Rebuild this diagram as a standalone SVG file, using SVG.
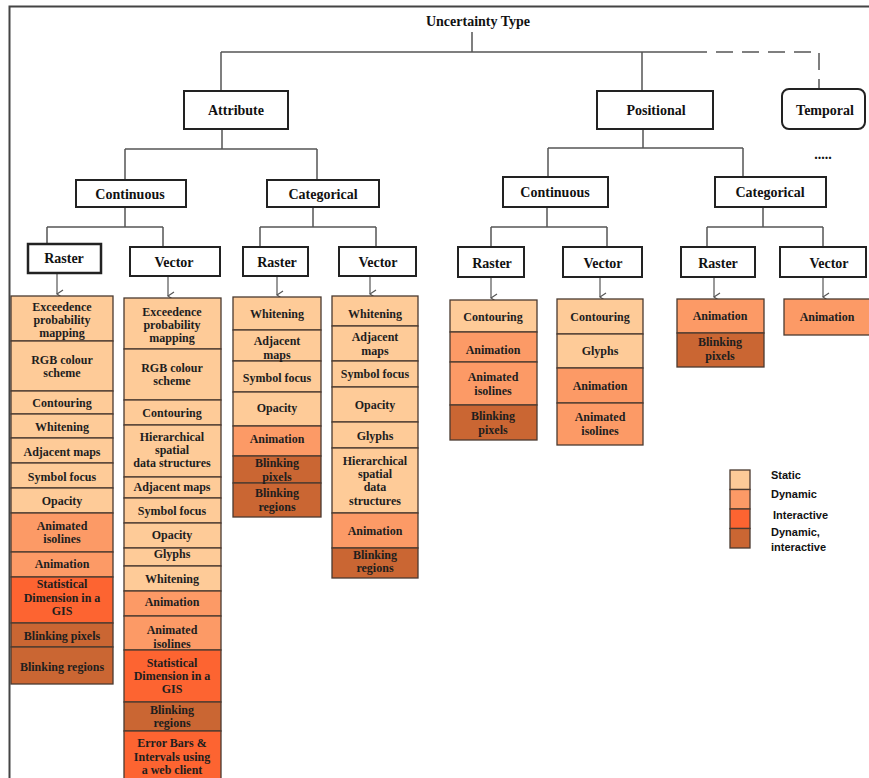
<svg xmlns="http://www.w3.org/2000/svg" width="869" height="778" viewBox="0 0 869 778">
<style>
.frame{fill:none;stroke:#444;stroke-width:2}
.ln{fill:none;stroke:#555;stroke-width:1.5}
.dash{fill:none;stroke:#555;stroke-width:1.5;stroke-dasharray:17 9}
.arr{fill:none;stroke:#555;stroke-width:1.2}
.box{fill:#fff;stroke:#222;stroke-width:2}
.ht{font-family:"Liberation Serif","Times New Roman",serif;font-weight:bold;font-size:14px;fill:#111;text-anchor:middle}
.ct{font-family:"Liberation Serif","Times New Roman",serif;font-weight:bold;font-size:12px;fill:#1e1e1e;text-anchor:middle}
.c{stroke:#4a3a30;stroke-width:1.3}
.st{fill:#fecb98}
.dy{fill:#fc9a66}
.in{fill:#fd6431}
.di{fill:#ca6633}
.lt{font-family:"Liberation Sans",Arial,sans-serif;font-weight:bold;font-size:11px;fill:#111}
</style>
<defs>
<marker id="ah" markerUnits="userSpaceOnUse" markerWidth="10" markerHeight="8" refX="5" refY="7" orient="auto-start-reverse" viewBox="0 0 10 8">
<path d="M1,1 L5,7 L9,1" fill="none" stroke="#555" stroke-width="1.2"/>
</marker>
</defs>
<rect width="869" height="778" fill="#fff"/>
<path class="frame" d="M9.5,778 V6.5 H869"/>

<g id="connectors">
<path class="ln" d="M472,32 V52 M221,52 H690 M221,52 V91 M642,52 V91"/>
<path class="dash" d="M690,52 H819 V88"/>
<path class="ln" d="M222,129 V149 M125,149 H317 M125,149 V180 M317,149 V180"/>
<path class="ln" d="M125,207 V227 M47,227 H163 M47,227 V244 M163,227 V247"/>
<path class="ln" d="M313,207 V227 M260,227 H376 M260,227 V247 M376,227 V247"/>
<path class="ln" d="M643,129 V148 M548,148 H743 M548,148 V177 M743,148 V177"/>
<path class="ln" d="M547,207 V227 M491,227 H607 M491,227 V247 M607,227 V247"/>
<path class="ln" d="M763,207 V227 M707,227 H823 M707,227 V247 M823,227 V247"/>
<path class="arr" marker-end="url(#ah)" d="M57,274 V294"/>
<path class="arr" marker-end="url(#ah)" d="M168,277 V296"/>
<path class="arr" marker-end="url(#ah)" d="M277,277 V295"/>
<path class="arr" marker-end="url(#ah)" d="M370,277 V294"/>
<path class="arr" marker-end="url(#ah)" d="M491,278 V298"/>
<path class="arr" marker-end="url(#ah)" d="M600,278 V297"/>
<path class="arr" marker-end="url(#ah)" d="M714,278 V297"/>
<path class="arr" marker-end="url(#ah)" d="M823,278 V297"/>
</g>

<g id="root"><text class="ht" x="478" y="26">Uncertainty Type</text></g>
<g id="attribute"><rect class="box" x="184" y="91" width="104" height="38"/><text class="ht" x="236" y="115">Attribute</text></g>
<g id="positional"><rect class="box" x="597" y="91" width="116" height="38"/><text class="ht" x="656" y="115">Positional</text></g>
<g id="temporal"><rect class="box" x="782" y="89" width="83" height="40" rx="7"/><text class="ht" x="825" y="115">Temporal</text></g>
<g id="temporal-more"><text class="ht" x="823" y="159">.....</text></g>

<g id="attr-continuous"><rect class="box" x="76" y="180" width="110" height="27"/><text class="ht" x="130" y="199">Continuous</text></g>
<g id="attr-categorical"><rect class="box" x="267" y="180" width="112" height="27"/><text class="ht" x="323" y="199">Categorical</text></g>
<g id="pos-continuous"><rect class="box" x="503" y="177" width="105" height="30"/><text class="ht" x="555" y="197">Continuous</text></g>
<g id="pos-categorical"><rect class="box" x="715" y="177" width="111" height="30"/><text class="ht" x="770" y="197">Categorical</text></g>

<g id="ac-raster"><rect class="box" x="28" y="244" width="73" height="29" style="stroke-width:2.5"/><text class="ht" x="64" y="263">Raster</text></g>
<g id="ac-vector"><rect class="box" x="130" y="247" width="90" height="29"/><text class="ht" x="174" y="267">Vector</text></g>
<g id="ak-raster"><rect class="box" x="243" y="247" width="65" height="29"/><text class="ht" x="277" y="267">Raster</text></g>
<g id="ak-vector"><rect class="box" x="339" y="247" width="77" height="29"/><text class="ht" x="378" y="267">Vector</text></g>
<g id="pc-raster"><rect class="box" x="458" y="247" width="66" height="30"/><text class="ht" x="492" y="268">Raster</text></g>
<g id="pc-vector"><rect class="box" x="563" y="247" width="79" height="30"/><text class="ht" x="603" y="268">Vector</text></g>
<g id="pk-raster"><rect class="box" x="681" y="247" width="74" height="30"/><text class="ht" x="718" y="268">Raster</text></g>
<g id="pk-vector"><rect class="box" x="780" y="247" width="86" height="30"/><text class="ht" x="829" y="268">Vector</text></g>

<g id="col-ac-raster">
<rect class="c st" x="11" y="296" width="102" height="45"/>
<rect class="c st" x="11" y="341" width="102" height="50"/>
<rect class="c st" x="11" y="391" width="102" height="23"/>
<rect class="c st" x="11" y="414" width="102" height="24"/>
<rect class="c st" x="11" y="438" width="102" height="25"/>
<rect class="c st" x="11" y="463" width="102" height="25"/>
<rect class="c st" x="11" y="488" width="102" height="25"/>
<rect class="c dy" x="11" y="513" width="102" height="39"/>
<rect class="c dy" x="11" y="552" width="102" height="25"/>
<rect class="c in" x="11" y="577" width="102" height="46"/>
<rect class="c di" x="11" y="623" width="102" height="24"/>
<rect class="c di" x="11" y="647" width="102" height="37"/>
<text class="ct" x="62" y="311">Exceedence</text>
<text class="ct" x="62" y="324">probability</text>
<text class="ct" x="62" y="337">mapping</text>
<text class="ct" x="62" y="364">RGB colour</text>
<text class="ct" x="62" y="377">scheme</text>
<text class="ct" x="62" y="407">Contouring</text>
<text class="ct" x="62" y="431">Whitening</text>
<text class="ct" x="62" y="456">Adjacent maps</text>
<text class="ct" x="62" y="481">Symbol focus</text>
<text class="ct" x="62" y="505">Opacity</text>
<text class="ct" x="62" y="530">Animated</text>
<text class="ct" x="62" y="543">isolines</text>
<text class="ct" x="62" y="568">Animation</text>
<text class="ct" x="62" y="588">Statistical</text>
<text class="ct" x="62" y="602">Dimension in a</text>
<text class="ct" x="62" y="615">GIS</text>
<text class="ct" x="62" y="640">Blinking pixels</text>
<text class="ct" x="62" y="671">Blinking regions</text>
</g>

<g id="col-ac-vector">
<rect class="c st" x="124" y="298" width="97" height="51"/>
<rect class="c st" x="124" y="349" width="97" height="51"/>
<rect class="c st" x="124" y="400" width="97" height="25"/>
<rect class="c st" x="124" y="425" width="97" height="52"/>
<rect class="c st" x="124" y="477" width="97" height="21"/>
<rect class="c st" x="124" y="498" width="97" height="25"/>
<rect class="c st" x="124" y="523" width="97" height="25"/>
<rect class="c st" x="124" y="548" width="97" height="18"/>
<rect class="c st" x="124" y="566" width="97" height="25"/>
<rect class="c dy" x="124" y="591" width="97" height="25"/>
<rect class="c dy" x="124" y="616" width="97" height="34"/>
<rect class="c in" x="124" y="650" width="97" height="52"/>
<rect class="c di" x="124" y="702" width="97" height="29"/>
<rect class="c in" x="124" y="731" width="97" height="52"/>
<text class="ct" x="172" y="316">Exceedence</text>
<text class="ct" x="172" y="329">probability</text>
<text class="ct" x="172" y="342">mapping</text>
<text class="ct" x="172" y="372">RGB colour</text>
<text class="ct" x="172" y="385">scheme</text>
<text class="ct" x="172" y="417">Contouring</text>
<text class="ct" x="172" y="441">Hierarchical</text>
<text class="ct" x="172" y="454">spatial</text>
<text class="ct" x="172" y="467">data structures</text>
<text class="ct" x="172" y="491">Adjacent maps</text>
<text class="ct" x="172" y="515">Symbol focus</text>
<text class="ct" x="172" y="539">Opacity</text>
<text class="ct" x="172" y="558">Glyphs</text>
<text class="ct" x="172" y="583">Whitening</text>
<text class="ct" x="172" y="606">Animation</text>
<text class="ct" x="172" y="634">Animated</text>
<text class="ct" x="172" y="648">isolines</text>
<text class="ct" x="172" y="667">Statistical</text>
<text class="ct" x="172" y="680">Dimension in a</text>
<text class="ct" x="172" y="693">GIS</text>
<text class="ct" x="172" y="714">Blinking</text>
<text class="ct" x="172" y="727">regions</text>
<text class="ct" x="172" y="747">Error Bars &amp;</text>
<text class="ct" x="172" y="761">Intervals using</text>
<text class="ct" x="172" y="774">a web client</text>
</g>

<g id="col-ak-raster">
<rect class="c st" x="233" y="297" width="88" height="33"/>
<rect class="c st" x="233" y="330" width="88" height="31"/>
<rect class="c st" x="233" y="361" width="88" height="31"/>
<rect class="c st" x="233" y="392" width="88" height="34"/>
<rect class="c dy" x="233" y="426" width="88" height="30"/>
<rect class="c di" x="233" y="456" width="88" height="27"/>
<rect class="c di" x="233" y="483" width="88" height="34"/>
<text class="ct" x="277" y="318">Whitening</text>
<text class="ct" x="277" y="345">Adjacent</text>
<text class="ct" x="277" y="359">maps</text>
<text class="ct" x="277" y="382">Symbol focus</text>
<text class="ct" x="277" y="412">Opacity</text>
<text class="ct" x="277" y="443">Animation</text>
<text class="ct" x="277" y="467">Blinking</text>
<text class="ct" x="277" y="481">pixels</text>
<text class="ct" x="277" y="497">Blinking</text>
<text class="ct" x="277" y="511">regions</text>
</g>

<g id="col-ak-vector">
<rect class="c st" x="332" y="296" width="86" height="30"/>
<rect class="c st" x="332" y="326" width="86" height="35"/>
<rect class="c st" x="332" y="361" width="86" height="26"/>
<rect class="c st" x="332" y="387" width="86" height="35"/>
<rect class="c st" x="332" y="422" width="86" height="26"/>
<rect class="c st" x="332" y="448" width="86" height="65"/>
<rect class="c dy" x="332" y="513" width="86" height="35"/>
<rect class="c di" x="332" y="548" width="86" height="30"/>
<text class="ct" x="375" y="318">Whitening</text>
<text class="ct" x="375" y="341">Adjacent</text>
<text class="ct" x="375" y="355">maps</text>
<text class="ct" x="375" y="378">Symbol focus</text>
<text class="ct" x="375" y="409">Opacity</text>
<text class="ct" x="375" y="440">Glyphs</text>
<text class="ct" x="375" y="465">Hierarchical</text>
<text class="ct" x="375" y="478">spatial</text>
<text class="ct" x="375" y="491">data</text>
<text class="ct" x="375" y="505">structures</text>
<text class="ct" x="375" y="535">Animation</text>
<text class="ct" x="375" y="559">Blinking</text>
<text class="ct" x="375" y="572">regions</text>
</g>

<g id="col-pc-raster">
<rect class="c st" x="450" y="300" width="87" height="32"/>
<rect class="c dy" x="450" y="332" width="87" height="30"/>
<rect class="c dy" x="450" y="362" width="87" height="43"/>
<rect class="c di" x="450" y="405" width="87" height="35"/>
<text class="ct" x="493" y="321">Contouring</text>
<text class="ct" x="493" y="354">Animation</text>
<text class="ct" x="493" y="381">Animated</text>
<text class="ct" x="493" y="395">isolines</text>
<text class="ct" x="493" y="420">Blinking</text>
<text class="ct" x="493" y="434">pixels</text>
</g>

<g id="col-pc-vector">
<rect class="c st" x="557" y="299" width="86" height="35"/>
<rect class="c st" x="557" y="334" width="86" height="34"/>
<rect class="c dy" x="557" y="368" width="86" height="35"/>
<rect class="c dy" x="557" y="403" width="86" height="42"/>
<text class="ct" x="600" y="321">Contouring</text>
<text class="ct" x="600" y="355">Glyphs</text>
<text class="ct" x="600" y="390">Animation</text>
<text class="ct" x="600" y="421">Animated</text>
<text class="ct" x="600" y="435">isolines</text>
</g>

<g id="col-pk-raster">
<rect class="c dy" x="677" y="299" width="87" height="34"/>
<rect class="c di" x="677" y="333" width="87" height="34"/>
<text class="ct" x="720" y="320">Animation</text>
<text class="ct" x="720" y="346">Blinking</text>
<text class="ct" x="720" y="360">pixels</text>
</g>

<g id="col-pk-vector">
<rect class="c dy" x="784" y="299" width="90" height="36"/>
<text class="ct" x="827" y="321">Animation</text>
</g>

<g id="legend">
<rect class="c st" x="730" y="470" width="20" height="19.5"/>
<rect class="c dy" x="730" y="489.5" width="20" height="19.5"/>
<rect class="c in" x="730" y="509" width="20" height="19.5"/>
<rect class="c di" x="730" y="528.5" width="20" height="19.5"/>
<text class="lt" x="771" y="479">Static</text>
<text class="lt" x="771" y="498">Dynamic</text>
<text class="lt" x="773" y="519">Interactive</text>
<text class="lt" x="771" y="536">Dynamic,</text>
<text class="lt" x="771" y="551">interactive</text>
</g>
</svg>
